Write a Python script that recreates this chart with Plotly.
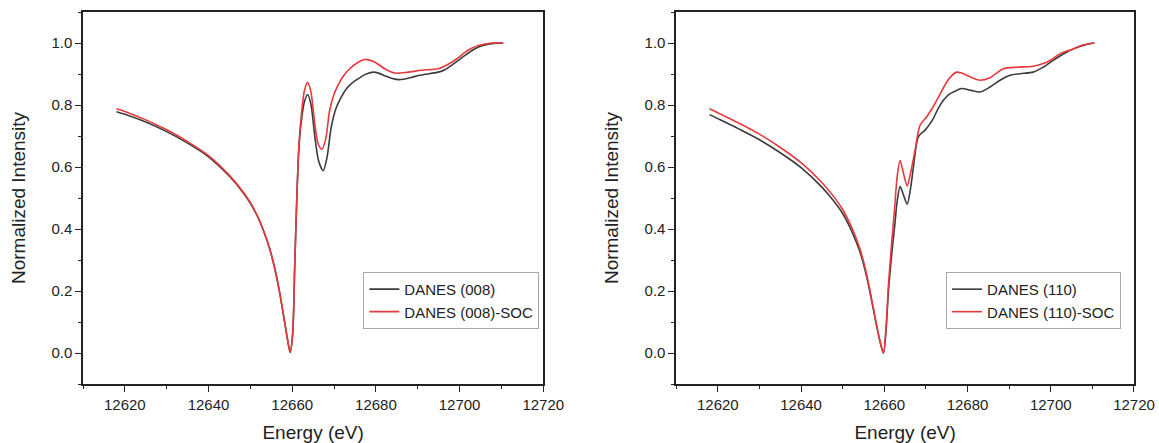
import plotly.graph_objects as go

# ---------------- data ----------------
# Panel (008)
e_008 = [12618, 12620, 12625, 12630, 12635, 12640, 12645, 12648, 12650, 12652, 12654, 12655,
         12656, 12657, 12658, 12658.8, 12659.5, 12660.1, 12660.6, 12661.1, 12661.6, 12662.2,
         12662.9, 12663.7, 12664.5, 12665.3, 12666.3, 12667.4, 12668.3, 12669.35, 12670.5,
         12671.75, 12673.0, 12674.15, 12675.7, 12677.35, 12679.35, 12680.8, 12682.1, 12683.7,
         12685.3, 12686.9, 12688.5, 12690.1, 12691.7, 12694.9, 12696.5, 12698.1, 12699.7,
         12701.3, 12702.9, 12704.5, 12706.1, 12707.7, 12710.3]
i_008 = [0.778, 0.770, 0.745, 0.714, 0.677, 0.633, 0.570, 0.522, 0.483, 0.432, 0.362, 0.318,
         0.262, 0.195, 0.115, 0.050, 0.002, 0.060, 0.280, 0.500, 0.660, 0.750,
         0.810, 0.834, 0.800, 0.710, 0.620, 0.588, 0.630, 0.730, 0.790,
         0.826, 0.853, 0.869, 0.884, 0.898, 0.906, 0.902, 0.894, 0.886,
         0.882, 0.884, 0.889, 0.895, 0.899, 0.906, 0.914, 0.928, 0.944,
         0.960, 0.975, 0.987, 0.994, 0.998, 1.000]

e_008_soc = [12618, 12620, 12625, 12630, 12635, 12640, 12645, 12648, 12650, 12652, 12654, 12655,
             12656, 12657, 12658, 12658.8, 12659.5, 12660.1, 12660.6, 12661.1, 12661.6, 12662.2,
             12662.9, 12663.7, 12664.5, 12665.3, 12666.2, 12667.1, 12668.0, 12668.95, 12670.0,
             12670.96, 12672.2, 12673.36, 12675.75, 12677.35, 12679.75, 12682.1, 12684.5,
             12687.7, 12690.9, 12694.9, 12696.5, 12698.1, 12699.7, 12701.3, 12702.9, 12704.5,
             12707.7, 12710.5]
i_008_soc = [0.788, 0.779, 0.752, 0.720, 0.682, 0.637, 0.573, 0.524, 0.485, 0.433, 0.363, 0.318,
             0.262, 0.195, 0.115, 0.050, 0.002, 0.060, 0.280, 0.500, 0.670, 0.770,
             0.845, 0.873, 0.840, 0.750, 0.675, 0.657, 0.690, 0.783, 0.835,
             0.864, 0.893, 0.912, 0.938, 0.947, 0.938, 0.917, 0.903,
             0.906, 0.912, 0.917, 0.926, 0.938, 0.953, 0.970, 0.983, 0.992,
             1.000, 1.000]

# Panel (110)
e_110 = [12618, 12620, 12625, 12630, 12635, 12640, 12645, 12648, 12650, 12652, 12654, 12655,
         12656, 12657, 12658, 12659, 12659.8, 12660.4, 12661.0, 12661.8, 12662.5, 12663.1,
         12663.8, 12664.6, 12665.5, 12666.3, 12667.0, 12668.2, 12669.8, 12671.0, 12671.8,
         12673.0, 12674.2, 12675.4, 12676.6, 12678.6, 12680.6, 12683.0, 12685.4, 12687.8,
         12690.2, 12692.6, 12695.8, 12698.2, 12700.6, 12702.2, 12703.8, 12705.4, 12707.0,
         12708.8, 12710.5]
i_110 = [0.769, 0.756, 0.723, 0.688, 0.646, 0.598, 0.535, 0.488, 0.450, 0.398, 0.332, 0.287,
         0.232, 0.166, 0.098, 0.035, 0.000, 0.070, 0.200, 0.320, 0.410, 0.490,
         0.537, 0.510, 0.480, 0.530, 0.600, 0.698, 0.719, 0.740, 0.757,
         0.790, 0.815, 0.833, 0.842, 0.853, 0.848, 0.842, 0.858, 0.880,
         0.896, 0.901, 0.906, 0.922, 0.944, 0.958, 0.970, 0.981, 0.989,
         0.996, 1.000]

e_110_soc = [12618, 12620, 12625, 12630, 12635, 12640, 12645, 12648, 12650, 12652, 12654, 12655,
             12656, 12657, 12658, 12659, 12659.8, 12660.4, 12661.0, 12661.8, 12662.5, 12663.1,
             12663.8, 12664.6, 12665.5, 12666.3, 12667.4, 12668.6, 12670.2, 12671.4, 12672.6,
             12675.0, 12676.2, 12677.4, 12678.6, 12679.8, 12681.4, 12683.0, 12685.4, 12687.0,
             12688.6, 12691.8, 12695.8, 12699.0, 12700.6, 12702.2, 12705.4, 12707.5, 12710.5]
i_110_soc = [0.788, 0.775, 0.742, 0.706, 0.663, 0.614, 0.550, 0.502, 0.463, 0.410, 0.342, 0.296,
             0.238, 0.171, 0.100, 0.036, 0.000, 0.080, 0.220, 0.360, 0.470, 0.570,
             0.621, 0.580, 0.539, 0.580, 0.655, 0.735, 0.762, 0.787, 0.815,
             0.874, 0.895, 0.906, 0.903, 0.896, 0.886, 0.880, 0.888, 0.903,
             0.917, 0.922, 0.925, 0.938, 0.950, 0.965, 0.981, 0.993, 1.000]

x_ticks = [12620, 12640, 12660, 12680, 12700, 12720]
y_ticks = [0.0, 0.2, 0.4, 0.6, 0.8, 1.0]
x_title = "Energy (eV)"
y_title = "Normalized Intensity"
names = ["DANES (008)", "DANES (008)-SOC", "DANES (110)", "DANES (110)-SOC"]

# ---------------- figure ----------------
BLACK = "#3c3c3c"
RED = "#e8393c"
FONT = "Arial, Liberation Sans, sans-serif"

fig = go.Figure()
fig.add_trace(go.Scatter(x=e_008, y=i_008, mode="lines", name=names[0],
                         line=dict(color=BLACK, width=1.6, shape="spline", smoothing=0.8),
                         xaxis="x", yaxis="y", legend="legend"))
fig.add_trace(go.Scatter(x=e_008_soc, y=i_008_soc, mode="lines", name=names[1],
                         line=dict(color=RED, width=1.6, shape="spline", smoothing=0.8),
                         xaxis="x", yaxis="y", legend="legend"))
fig.add_trace(go.Scatter(x=e_110, y=i_110, mode="lines", name=names[2],
                         line=dict(color=BLACK, width=1.6, shape="spline", smoothing=0.8),
                         xaxis="x2", yaxis="y2", legend="legend2"))
fig.add_trace(go.Scatter(x=e_110_soc, y=i_110_soc, mode="lines", name=names[3],
                         line=dict(color=RED, width=1.6, shape="spline", smoothing=0.8),
                         xaxis="x2", yaxis="y2", legend="legend2"))

W, H = 1159, 443
ML, MR, MT, MB = 82.5, 25, 12.3, 59
PW = W - ML - MR
PH = H - MT - MB

def xdom(a, b):
    return [(a - ML) / PW, (b - ML) / PW]

common_x = dict(range=[12610, 12720], tickvals=x_ticks, tickformat="d", ticks="outside", ticklen=6,
                tickwidth=1.3, tickcolor="#222", showline=True, linecolor="#222", linewidth=1.5,
                mirror=True, showgrid=False, zeroline=False, automargin=False,
                minor=dict(dtick=10, tick0=12610, ticks="outside", ticklen=3, tickwidth=1.3, tickcolor="#222"),
                tickfont=dict(family=FONT, size=15, color="#222"),
                title=dict(text=x_title, font=dict(family=FONT, size=19, color="#222"), standoff=18))
common_y = dict(range=[-0.1, 1.1], tickvals=y_ticks, tickformat=".1f", ticks="outside", ticklen=6,
                tickwidth=1.3, tickcolor="#222", showline=True, linecolor="#222", linewidth=1.5,
                mirror=True, showgrid=False, zeroline=False, automargin=False,
                minor=dict(dtick=0.1, tick0=0, ticks="outside", ticklen=3, tickwidth=1.3, tickcolor="#222"),
                tickfont=dict(family=FONT, size=15, color="#222"),
                title=dict(text=y_title, font=dict(family=FONT, size=19, color="#222"), standoff=21))

legend_common = dict(xanchor="left", yanchor="top", bgcolor="white", bordercolor="#a8a8a8",
                     borderwidth=1, font=dict(family=FONT, size=15, color="#222"),
                     tracegroupgap=0, itemwidth=30)

fig.update_layout(
    width=W, height=H, autosize=False,
    margin=dict(l=ML, r=MR, t=MT, b=MB, pad=0),
    paper_bgcolor="white", plot_bgcolor="white",
    font=dict(family=FONT, color="#222"),
    xaxis=dict(domain=xdom(82.5, 543), anchor="y", **common_x),
    yaxis=dict(domain=[0, 1], anchor="x", **common_y),
    xaxis2=dict(domain=xdom(676, 1134), anchor="y2", **common_x),
    yaxis2=dict(domain=[0, 1], anchor="x2", **common_y),
    legend=dict(x=(363 - ML) / PW, y=(H - MB - 272) / PH, xref="paper", yref="paper",
                **legend_common),
    legend2=dict(x=(946 - ML) / PW, y=(H - MB - 272) / PH, xref="paper", yref="paper",
                 **legend_common),
)

fig.write_html("out.html", config={"displayModeBar": False},
               post_script="document.body.style.margin='0';document.body.style.overflow='hidden';")
